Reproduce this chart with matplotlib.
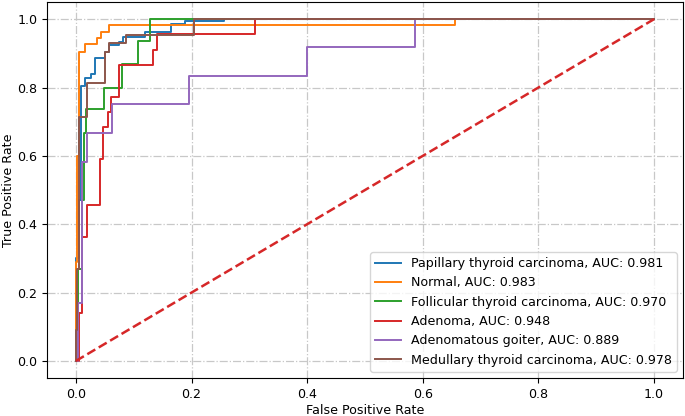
import numpy as np
import matplotlib
matplotlib.use("Agg")
import matplotlib.pyplot as plt

# ROC corner points
papillary_fpr = [0, 0, 0.005, 0.005, 0.009, 0.009, 0.016, 0.016, 0.026, 0.026, 0.033, 0.033,
                 0.050, 0.050, 0.058, 0.058, 0.074, 0.074, 0.082, 0.082, 0.120, 0.120, 0.165,
                 0.165, 0.189, 0.189, 0.256, 0.256, 1.0]
papillary_tpr = [0, 0.30, 0.30, 0.47, 0.47, 0.804, 0.804, 0.829, 0.829, 0.839, 0.839, 0.885,
                 0.885, 0.904, 0.904, 0.924, 0.924, 0.934, 0.934, 0.947, 0.947, 0.961, 0.961,
                 0.985, 0.985, 0.994, 0.994, 1.0, 1.0]

normal_fpr = [0, 0, 0.002, 0.002, 0.006, 0.006, 0.015, 0.015, 0.037, 0.037, 0.044, 0.044,
              0.058, 0.058, 0.656, 0.656, 1.0]
normal_tpr = [0, 0.29, 0.29, 0.60, 0.60, 0.903, 0.903, 0.927, 0.927, 0.944, 0.944, 0.963,
              0.963, 0.982, 0.982, 1.0, 1.0]

follicular_fpr = [0, 0.003, 0.003, 0.010, 0.010, 0.014, 0.014, 0.018, 0.018, 0.048, 0.048,
                  0.080, 0.080, 0.107, 0.107, 0.128, 0.128, 1.0]
follicular_tpr = [0, 0, 0.27, 0.27, 0.47, 0.47, 0.667, 0.667, 0.736, 0.736, 0.80, 0.80,
                  0.87, 0.87, 0.936, 0.936, 1.0, 1.0]

adenoma_fpr = [0, 0.005, 0.005, 0.010, 0.010, 0.019, 0.019, 0.042, 0.042, 0.047, 0.047,
               0.056, 0.056, 0.060, 0.060, 0.074, 0.074, 0.133, 0.133, 0.141, 0.141, 0.309,
               0.309, 1.0]
adenoma_tpr = [0, 0, 0.14, 0.14, 0.364, 0.364, 0.456, 0.456, 0.592, 0.592, 0.685, 0.685,
               0.727, 0.727, 0.773, 0.773, 0.865, 0.865, 0.909, 0.909, 0.956, 0.956, 1.0, 1.0]

goiter_fpr = [0, 0.004, 0.004, 0.011, 0.011, 0.020, 0.020, 0.063, 0.063, 0.196, 0.196,
              0.400, 0.400, 0.586, 0.586, 1.0]
goiter_tpr = [0, 0, 0.17, 0.17, 0.583, 0.583, 0.668, 0.668, 0.751, 0.751, 0.834, 0.834,
              0.919, 0.919, 1.0, 1.0]

medullary_fpr = [0, 0, 0.002, 0.002, 0.006, 0.006, 0.019, 0.019, 0.050, 0.050, 0.058, 0.058,
                 0.086, 0.086, 0.204, 0.204, 1.0]
medullary_tpr = [0, 0.09, 0.09, 0.27, 0.27, 0.714, 0.714, 0.812, 0.812, 0.904, 0.904, 0.93,
                 0.93, 0.955, 0.955, 1.0, 1.0]

class_names = ["Papillary thyroid carcinoma", "Normal", "Follicular thyroid carcinoma",
               "Adenoma", "Adenomatous goiter", "Medullary thyroid carcinoma"]
auc_values = [0.981, 0.983, 0.970, 0.948, 0.889, 0.978]

curves = [(papillary_fpr, papillary_tpr), (normal_fpr, normal_tpr),
          (follicular_fpr, follicular_tpr), (adenoma_fpr, adenoma_tpr),
          (goiter_fpr, goiter_tpr), (medullary_fpr, medullary_tpr)]

plt.rcParams["font.size"] = 9.1

fig, ax = plt.subplots(figsize=(6.85, 4.16), dpi=100)
fig.subplots_adjust(left=0.0686, right=0.997, top=0.995, bottom=0.0913)

for (fpr, tpr), name, auc in zip(curves, class_names, auc_values):
    ax.plot(fpr, tpr, lw=1.4, label=f"{name}, AUC: {auc:.3f}")

ax.plot([0, 1], [0, 1], color="tab:red", lw=1.8, linestyle="--")

ax.set_xlabel("False Positive Rate", labelpad=2.5)
ax.set_ylabel("True Positive Rate", labelpad=1.8)
ax.grid(True, linestyle="-.", color="#c8c8c8", lw=0.9)
ax.legend(loc="lower right", fontsize=9.1)

fig.savefig("out.png", dpi=100)
